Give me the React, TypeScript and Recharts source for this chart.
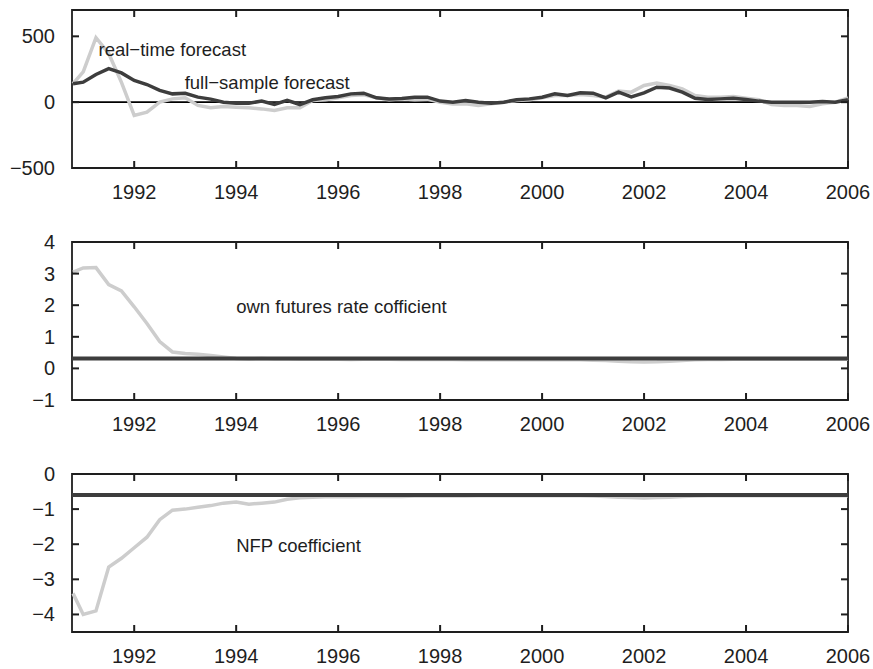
import React from "react";
import {
  LineChart,
  Line,
  XAxis,
  YAxis,
  ReferenceLine,
  ReferenceArea,
  ReferenceDot,
} from "recharts";

// quarterly samples, late 1990 .. Q1 2006
const realTimeForecast = [
  140,
  230, 490, 370, 150,
  -101, -76, 0, 25,
  33, -25, -43, -33,
  -38, -43, -51, -63,
  -43, -43, 13, 18,
  33, 51, 56, 33,
  18, 25, 18, 23,
  0, -13, -13, -25,
  -13, 0, 13, 18,
  33, 51, 51, 58,
  51, 38, 84, 76,
  127, 145, 127, 101,
  51, 38, 38, 43,
  30, 18, -18, -25,
  -25, -33, -13, 0,
  33,
];
const fullSampleForecast = [
  140,
  152, 210, 255, 222,
  165, 134, 89, 63,
  68, 38, 23, 0,
  -8, -8, 8, -18,
  13, -18, 18, 33,
  43, 63, 68, 33,
  25, 28, 38, 38,
  8, 0, 13, 0,
  -8, 0, 18, 25,
  38, 63, 50, 71,
  68, 33, 76, 40,
  71, 114, 107, 76,
  30, 20, 25, 30,
  20, 8, 0, 0,
  0, 0, 5, 0,
  18,
];
const ownRateRealTime = [
  3.05,
  3.18, 3.19, 2.65, 2.45,
  1.95, 1.42, 0.85, 0.52,
  0.47, 0.45, 0.41, 0.36,
  0.31, 0.3, 0.31, 0.3,
  0.3, 0.29, 0.29, 0.29,
  0.29, 0.28, 0.29, 0.29,
  0.29, 0.28, 0.28, 0.28,
  0.28, 0.28, 0.27, 0.27,
  0.27, 0.27, 0.27, 0.27,
  0.27, 0.27, 0.27, 0.27,
  0.26, 0.25, 0.23, 0.21,
  0.2, 0.21, 0.23, 0.25,
  0.27, 0.28, 0.28, 0.29,
  0.29, 0.29, 0.29, 0.29,
  0.29, 0.29, 0.29, 0.29,
  0.29,
];
const ownRateFullSample = 0.31;
const nfpRealTime = [
  -3.4,
  -4.0, -3.9, -2.65, -2.4,
  -2.1, -1.8, -1.3, -1.03,
  -1.0, -0.95, -0.9, -0.83,
  -0.8, -0.86, -0.83, -0.8,
  -0.72, -0.68, -0.66, -0.65,
  -0.65, -0.65, -0.64, -0.64,
  -0.64, -0.64, -0.63, -0.63,
  -0.63, -0.63, -0.63, -0.62,
  -0.62, -0.62, -0.62, -0.62,
  -0.62, -0.62, -0.62, -0.62,
  -0.63, -0.64, -0.66, -0.67,
  -0.68, -0.67, -0.66, -0.64,
  -0.63, -0.62, -0.62, -0.62,
  -0.62, -0.62, -0.62, -0.62,
  -0.62, -0.62, -0.62, -0.62,
  -0.62,
];
const nfpFullSample = -0.6;

const yearTicks = [1992, 1994, 1996, 1998, 2000, 2002, 2004, 2006];
// first sample sits at the left edge of the frame, then quarterly
const quarters = realTimeForecast.map((_, i) => (i === 0 ? 1990.8 : 1990.75 + i * 0.25));

const rows = quarters.map((t, i) => ({
  t,
  realTime: realTimeForecast[i],
  fullSample: fullSampleForecast[i],
  ownRate: ownRateRealTime[i],
  nfp: nfpRealTime[i],
}));

const X0 = 1990.78;
const X1 = 2006;
const W = 873;
const H = 204;
const TOP = 10;
const LEFT = 72;
const RIGHT = 848;
const TICK = 7;
const ink = "#1e1e1e";
const light = "#cdcdcd";
const dark = "#3d3d3d";
const font = "'Liberation Sans', Arial, sans-serif";

const fmt = (v: number) => (v < 0 ? "\u2212" + Math.abs(v) : String(v));

// bottom label plus inward tick marks on the bottom and top edges
const XTick = (p: any) => (
  <g>
    <rect x={p.x - 1} y={p.y - 2 - TICK} width={2} height={TICK} fill={ink} />
    <rect x={p.x - 1} y={TOP} width={2} height={TICK} fill={ink} />
    <text x={p.x} y={p.y + 22} textAnchor="middle" dominantBaseline="central"
      fontSize={20} fontFamily={font} fill={ink}>
      {p.payload.value}
    </text>
  </g>
);

// left label plus inward tick marks on the left and right edges
const YTick = (p: any) => (
  <g>
    <rect x={p.x + 2} y={p.y - 1} width={TICK} height={2} fill={ink} />
    <rect x={RIGHT - TICK} y={p.y - 1} width={TICK} height={2} fill={ink} />
    <text x={p.x - 15} y={p.y} textAnchor="end" dominantBaseline="central"
      fontSize={20} fontFamily={font} fill={ink}>
      {fmt(p.payload.value)}
    </text>
  </g>
);

const note = (text: string) => (p: any) => (
  <text x={p.viewBox.x} y={p.viewBox.y} dominantBaseline="central"
    fontSize={18.5} fontFamily={font} fill={ink}>
    {text}
  </text>
);

function axes(domain: number[], ticks: number[]) {
  return [
    <XAxis key="xb" type="number" dataKey="t" domain={[X0, X1]} ticks={yearTicks}
      height={36} tickSize={0} axisLine={false} tick={XTick} />,
    <YAxis key="yl" type="number" domain={domain} ticks={ticks}
      width={LEFT} tickSize={0} axisLine={false} tick={YTick} />,
    <ReferenceArea key="box" x1={X0} x2={X1} y1={domain[0]} y2={domain[1]}
      fill="none" stroke={ink} strokeWidth={1.8} />,
  ];
}

export default function App() {
  const margin = { top: TOP, right: W - RIGHT, left: 0, bottom: 0 };
  return (
    <div style={{ position: "absolute", left: 0, top: 0, width: W, height: 669, background: "#fff" }}>
      <div style={{ position: "absolute", left: 0, top: 0 }}>
        <LineChart width={W} height={H} data={rows} margin={margin}>
          {axes([-500, 700], [-500, 0, 500])}
          <ReferenceLine y={0} stroke="#000" strokeWidth={1.6} />
          <Line dataKey="realTime" stroke={light} strokeWidth={3.5} dot={false} isAnimationActive={false} />
          <Line dataKey="fullSample" stroke={dark} strokeWidth={3.5} dot={false} isAnimationActive={false} />
          <ReferenceDot x={1991.3} y={400} r={0} fill="none" stroke="none" label={note("real\u2212time forecast")} />
          <ReferenceDot x={1992.99} y={152} r={0} fill="none" stroke="none" label={note("full\u2212sample forecast")} />
        </LineChart>
      </div>
      <div style={{ position: "absolute", left: 0, top: 232 }}>
        <LineChart width={W} height={H} data={rows} margin={margin}>
          {axes([-1, 4], [-1, 0, 1, 2, 3, 4])}
          <Line dataKey="ownRate" stroke={light} strokeWidth={3.5} dot={false} isAnimationActive={false} />
          <ReferenceLine y={ownRateFullSample} stroke={dark} strokeWidth={4} />
          <ReferenceDot x={1994.0} y={1.97} r={0} fill="none" stroke="none" label={note("own futures rate cofficient")} />
        </LineChart>
      </div>
      <div style={{ position: "absolute", left: 0, top: 464 }}>
        <LineChart width={W} height={H} data={rows} margin={margin}>
          {axes([-4.5, 0], [-4, -3, -2, -1, 0])}
          <Line dataKey="nfp" stroke={light} strokeWidth={3.5} dot={false} isAnimationActive={false} />
          <ReferenceLine y={nfpFullSample} stroke={dark} strokeWidth={4} />
          <ReferenceDot x={1994.0} y={-2.03} r={0} fill="none" stroke="none" label={note("NFP coefficient")} />
        </LineChart>
      </div>
    </div>
  );
}
